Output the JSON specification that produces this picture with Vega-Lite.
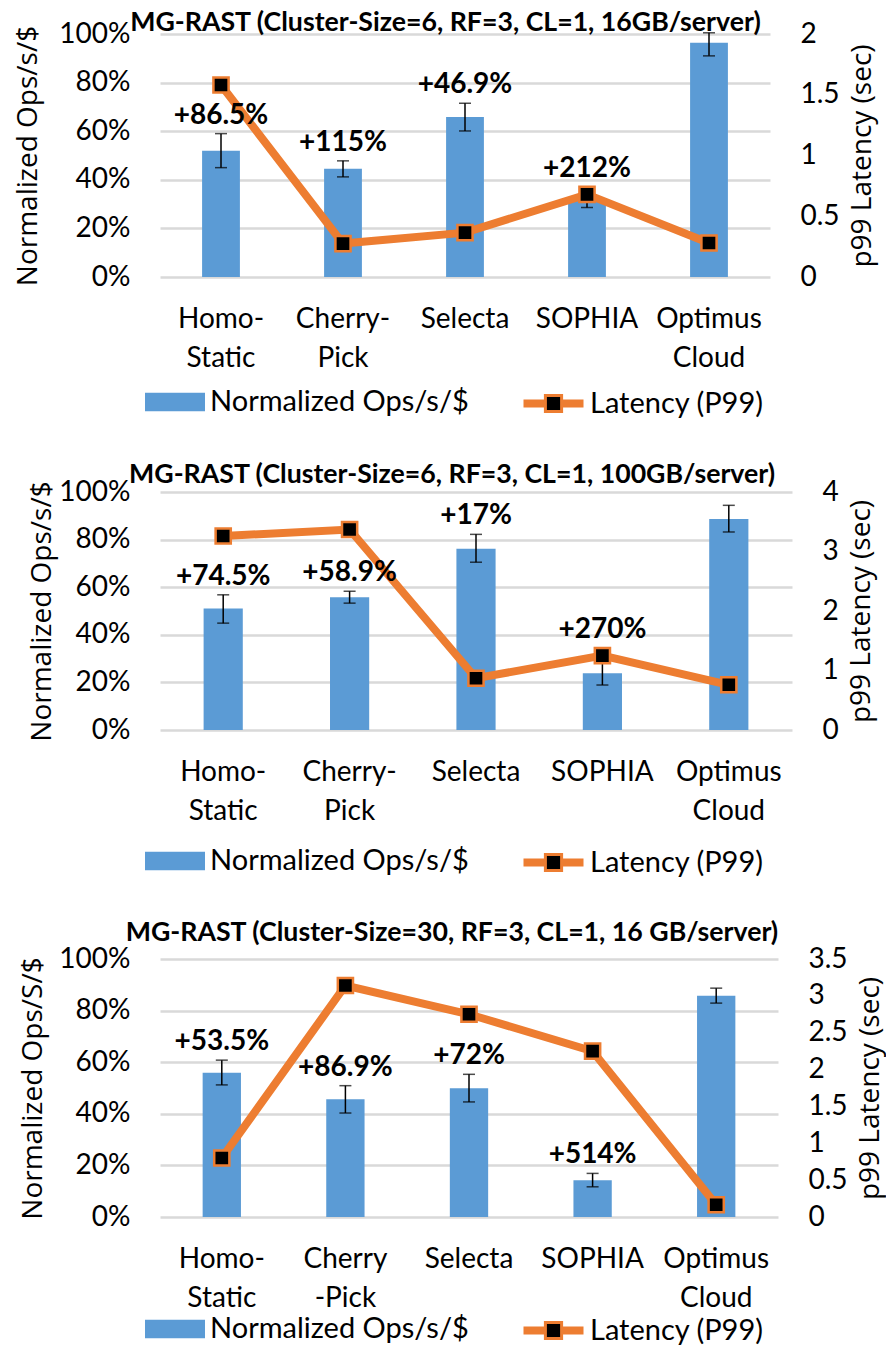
{
  "$schema": "https://vega.github.io/schema/vega-lite/v6.json",
  "padding": {"left": 14, "top": 0, "right": 4, "bottom": 0},
  "spacing": 42,
  "background": "white",
  "datasets": {
    "p1": [
      {"name": "Homo-|Static", "ops": 52.0, "lo": 45.0, "hi": 59.0, "lat": 1.58, "label": "+86.5%"},
      {"name": "Cherry-|Pick", "ops": 44.5, "lo": 41.2, "hi": 47.8, "lat": 0.275, "label": "+115%"},
      {"name": "Selecta", "ops": 65.8, "lo": 60.1, "hi": 71.5, "lat": 0.365, "label": "+46.9%"},
      {"name": "SOPHIA", "ops": 31.4, "lo": 28.6, "hi": 34.2, "lat": 0.68, "label": "+212%"},
      {"name": "Optimus|Cloud", "ops": 96.4, "lo": 91.0, "hi": 100.5, "lat": 0.28, "label": ""}
    ],
    "p2": [
      {"name": "Homo-|Static", "ops": 51.0, "lo": 44.9, "hi": 56.8, "lat": 3.26, "label": "+74.5%"},
      {"name": "Cherry-|Pick", "ops": 55.8, "lo": 53.3, "hi": 58.3, "lat": 3.37, "label": "+58.9%"},
      {"name": "Selecta", "ops": 76.2, "lo": 70.5, "hi": 82.2, "lat": 0.87, "label": "+17%"},
      {"name": "SOPHIA", "ops": 23.8, "lo": 18.9, "hi": 28.7, "lat": 1.25, "label": "+270%"},
      {"name": "Optimus|Cloud", "ops": 88.7, "lo": 83.2, "hi": 94.4, "lat": 0.76, "label": ""}
    ],
    "p3": [
      {"name": "Homo-|Static", "ops": 55.9, "lo": 51.2, "hi": 60.8, "lat": 0.80, "label": "+53.5%"},
      {"name": "Cherry|-Pick", "ops": 45.6, "lo": 40.3, "hi": 50.9, "lat": 3.14, "label": "+86.9%"},
      {"name": "Selecta", "ops": 49.9, "lo": 44.6, "hi": 55.3, "lat": 2.75, "label": "+72%"},
      {"name": "SOPHIA", "ops": 14.2, "lo": 11.7, "hi": 16.9, "lat": 2.25, "label": "+514%"},
      {"name": "Optimus|Cloud", "ops": 85.8, "lo": 82.9, "hi": 88.7, "lat": 0.166, "label": ""}
    ]
  },
  "resolve": {"scale": {"fill": "independent", "stroke": "independent"}, "legend": {"fill": "independent", "stroke": "independent"}},
  "vconcat": [
    {
      "width": 610, "height": 243,
      "title": {"text": "MG-RAST (Cluster-Size=6, RF=3, CL=1, 16GB/server)", "offset": -36},
      "data": {"name": "p1"},
      "encoding": {"x": {"field": "name", "type": "nominal", "sort": null, "scale": {"paddingInner": 0, "paddingOuter": 0}, "axis": {"title": null, "labelExpr": "split(datum.label, '|')", "labelAngle": 0, "labelPadding": 28, "labelBaseline": "top", "labelLineHeight": 39}}},
      "layer": [
        {"mark": {"type": "bar", "width": {"band": 0.31}},
         "encoding": {
           "y": {"field": "ops", "type": "quantitative", "scale": {"domain": [0, 100], "nice": false}, "axis": {"values": [0, 20, 40, 60, 80, 100], "labelExpr": "datum.value + '%'", "grid": true, "gridColor": "#D9D9D9", "gridWidth": 2.5, "title": "Normalized Ops/s/$", "labelPadding": 30, "titlePadding": 16}},
           "fill": {"datum": "Normalized Ops/s/$", "scale": {"range": ["#5B9BD5"]},
             "legend": {"orient": "bottom", "title": null, "labelFont": "Lato", "labelFontSize": 29, "labelColor": "black", "labelLimit": 500, "symbolType": "M-2,-0.62H2V0.62H-2Z", "symbolSize": 900, "symbolStrokeWidth": 0, "labelOffset": 20, "offset": 15}}
         }},
        {"mark": {"type": "errorbar", "color": "black", "ticks": {"size": 12, "thickness": 1.5, "color": "black"}, "rule": {"strokeWidth": 1.5, "color": "black"}},
         "encoding": {"y": {"field": "lo", "type": "quantitative", "scale": {"domain": [0, 100], "nice": false}, "axis": null}, "y2": {"field": "hi"}}},
        {"mark": {"type": "line", "strokeWidth": 8},
         "encoding": {
           "y": {"field": "lat", "type": "quantitative", "scale": {"domain": [0, 2], "nice": false}, "axis": {"orient": "right", "values": [0, 0.5, 1, 1.5, 2], "labelExpr": "datum.value + ''", "grid": false, "title": "p99 Latency (sec)", "titleAngle": 270, "titleBaseline": "top", "labelPadding": 30, "titlePadding": 9}},
           "stroke": {"datum": "Latency (P99)", "scale": {"range": ["#ED7D31"]},
             "legend": {"orient": "bottom", "title": null, "labelFont": "Lato", "labelFontSize": 29, "labelColor": "black", "labelLimit": 500, "symbolType": "M-2,0H-0.54M-2,-0.16H-0.54M-2,0.16H-0.54M0.54,0H2M0.54,-0.16H2M0.54,0.16H2M-0.54,-0.54H0.54V0.54H-0.54Z", "symbolSize": 900, "symbolStrokeWidth": 3, "symbolFillColor": "black", "symbolOffset": 60, "labelOffset": 20, "offset": 15}}
         }},
        {"mark": {"type": "point", "shape": "square", "filled": true, "fill": "black", "stroke": "#ED7D31", "strokeWidth": 2.5, "size": 230, "opacity": 1},
         "encoding": {"y": {"field": "lat", "type": "quantitative", "scale": {"domain": [0, 2], "nice": false}, "axis": null}}},
        {"transform": [{"calculate": "datum.name === 'SOPHIA' ? datum.lat * 50 + 3 : datum.hi", "as": "label_y"}],
         "mark": {"type": "text", "font": "Lato", "fontSize": 28, "fontWeight": "bold", "dy": -18, "baseline": "middle", "color": "black"},
         "encoding": {"y": {"field": "label_y", "type": "quantitative", "scale": {"domain": [0, 100], "nice": false}, "axis": null}, "text": {"field": "label"}}}
      ],
      "resolve": {"scale": {"y": "independent"}}
    },
    {
      "width": 632, "height": 238,
      "title": {"text": "MG-RAST (Cluster-Size=6, RF=3, CL=1, 100GB/server)", "offset": -15},
      "data": {"name": "p2"},
      "encoding": {"x": {"field": "name", "type": "nominal", "sort": null, "scale": {"paddingInner": 0, "paddingOuter": 0}, "axis": {"title": null, "labelExpr": "split(datum.label, '|')", "labelAngle": 0, "labelPadding": 28, "labelBaseline": "top", "labelLineHeight": 39}}},
      "layer": [
        {"mark": {"type": "bar", "width": {"band": 0.31}},
         "encoding": {
           "y": {"field": "ops", "type": "quantitative", "scale": {"domain": [0, 100], "nice": false}, "axis": {"values": [0, 20, 40, 60, 80, 100], "labelExpr": "datum.value + '%'", "grid": true, "gridColor": "#D9D9D9", "gridWidth": 2.5, "title": "Normalized Ops/s/$", "labelPadding": 30, "titlePadding": 2}},
           "fill": {"datum": "Normalized Ops/s/$", "scale": {"range": ["#5B9BD5"]},
             "legend": {"orient": "bottom", "title": null, "labelFont": "Lato", "labelFontSize": 29, "labelColor": "black", "labelLimit": 500, "symbolType": "M-2,-0.62H2V0.62H-2Z", "symbolSize": 900, "symbolStrokeWidth": 0, "labelOffset": 20, "offset": 21}}
         }},
        {"mark": {"type": "errorbar", "color": "black", "ticks": {"size": 12, "thickness": 1.5, "color": "black"}, "rule": {"strokeWidth": 1.5, "color": "black"}},
         "encoding": {"y": {"field": "lo", "type": "quantitative", "scale": {"domain": [0, 100], "nice": false}, "axis": null}, "y2": {"field": "hi"}}},
        {"mark": {"type": "line", "strokeWidth": 8},
         "encoding": {
           "y": {"field": "lat", "type": "quantitative", "scale": {"domain": [0, 4], "nice": false}, "axis": {"orient": "right", "values": [0, 1, 2, 3, 4], "labelExpr": "datum.value + ''", "grid": false, "title": "p99 Latency (sec)", "titleAngle": 270, "titleBaseline": "top", "labelPadding": 30, "titlePadding": 9}},
           "stroke": {"datum": "Latency (P99)", "scale": {"range": ["#ED7D31"]},
             "legend": {"orient": "bottom", "title": null, "labelFont": "Lato", "labelFontSize": 29, "labelColor": "black", "labelLimit": 500, "symbolType": "M-2,0H-0.54M-2,-0.16H-0.54M-2,0.16H-0.54M0.54,0H2M0.54,-0.16H2M0.54,0.16H2M-0.54,-0.54H0.54V0.54H-0.54Z", "symbolSize": 900, "symbolStrokeWidth": 3, "symbolFillColor": "black", "symbolOffset": 60, "labelOffset": 20, "offset": 21}}
         }},
        {"mark": {"type": "point", "shape": "square", "filled": true, "fill": "black", "stroke": "#ED7D31", "strokeWidth": 2.5, "size": 230, "opacity": 1},
         "encoding": {"y": {"field": "lat", "type": "quantitative", "scale": {"domain": [0, 4], "nice": false}, "axis": null}}},
        {"transform": [{"calculate": "datum.name === 'SOPHIA' ? datum.lat * 25 + 3 : datum.hi", "as": "label_y"}],
         "mark": {"type": "text", "font": "Lato", "fontSize": 28, "fontWeight": "bold", "dy": -18, "baseline": "middle", "color": "black"},
         "encoding": {"y": {"field": "label_y", "type": "quantitative", "scale": {"domain": [0, 100], "nice": false}, "axis": null}, "text": {"field": "label"}}}
      ],
      "resolve": {"scale": {"y": "independent"}}
    },
    {
      "width": 618, "height": 258,
      "title": {"text": "MG-RAST (Cluster-Size=30, RF=3, CL=1, 16 GB/server)", "offset": -2},
      "data": {"name": "p3"},
      "encoding": {"x": {"field": "name", "type": "nominal", "sort": null, "scale": {"paddingInner": 0, "paddingOuter": 0}, "axis": {"title": null, "labelExpr": "split(datum.label, '|')", "labelAngle": 0, "labelPadding": 28, "labelBaseline": "top", "labelLineHeight": 39}}},
      "layer": [
        {"mark": {"type": "bar", "width": {"band": 0.31}},
         "encoding": {
           "y": {"field": "ops", "type": "quantitative", "scale": {"domain": [0, 100], "nice": false}, "axis": {"values": [0, 20, 40, 60, 80, 100], "labelExpr": "datum.value + '%'", "grid": true, "gridColor": "#D9D9D9", "gridWidth": 2.5, "title": "Normalized Ops/S/$", "labelPadding": 30, "titlePadding": 11}},
           "fill": {"datum": "Normalized Ops/s/$", "scale": {"range": ["#5B9BD5"]},
             "legend": {"orient": "bottom", "title": null, "labelFont": "Lato", "labelFontSize": 29, "labelColor": "black", "labelLimit": 500, "symbolType": "M-2,-0.62H2V0.62H-2Z", "symbolSize": 900, "symbolStrokeWidth": 0, "labelOffset": 20, "offset": 2}}
         }},
        {"mark": {"type": "errorbar", "color": "black", "ticks": {"size": 12, "thickness": 1.5, "color": "black"}, "rule": {"strokeWidth": 1.5, "color": "black"}},
         "encoding": {"y": {"field": "lo", "type": "quantitative", "scale": {"domain": [0, 100], "nice": false}, "axis": null}, "y2": {"field": "hi"}}},
        {"mark": {"type": "line", "strokeWidth": 8},
         "encoding": {
           "y": {"field": "lat", "type": "quantitative", "scale": {"domain": [0, 3.5], "nice": false}, "axis": {"orient": "right", "values": [0, 0.5, 1, 1.5, 2, 2.5, 3, 3.5], "labelExpr": "datum.value + ''", "grid": false, "title": "p99 Latency (sec)", "titleAngle": 270, "titleBaseline": "top", "labelPadding": 30, "titlePadding": 9}},
           "stroke": {"datum": "Latency (P99)", "scale": {"range": ["#ED7D31"]},
             "legend": {"orient": "bottom", "title": null, "labelFont": "Lato", "labelFontSize": 29, "labelColor": "black", "labelLimit": 500, "symbolType": "M-2,0H-0.54M-2,-0.16H-0.54M-2,0.16H-0.54M0.54,0H2M0.54,-0.16H2M0.54,0.16H2M-0.54,-0.54H0.54V0.54H-0.54Z", "symbolSize": 900, "symbolStrokeWidth": 3, "symbolFillColor": "black", "symbolOffset": 60, "labelOffset": 20, "offset": 2}}
         }},
        {"mark": {"type": "point", "shape": "square", "filled": true, "fill": "black", "stroke": "#ED7D31", "strokeWidth": 2.5, "size": 230, "opacity": 1},
         "encoding": {"y": {"field": "lat", "type": "quantitative", "scale": {"domain": [0, 3.5], "nice": false}, "axis": null}}},
        {"mark": {"type": "text", "font": "Lato", "fontSize": 28, "fontWeight": "bold", "dy": -18, "baseline": "middle", "color": "black"},
         "encoding": {"y": {"field": "hi", "type": "quantitative", "scale": {"domain": [0, 100], "nice": false}, "axis": null}, "text": {"field": "label"}}}
      ],
      "resolve": {"scale": {"y": "independent"}}
    }
  ],
  "config": {
    "view": {"stroke": null},
    "font": "Lato",
    "title": {"font": "Lato", "fontSize": 26.7, "fontWeight": "bold", "color": "black", "frame": "bounds", "anchor": "middle"},
    "axis": {"ticks": false, "domain": false, "grid": false, "labelFont": "Lato", "labelFontSize": 28, "labelColor": "black", "titleFont": "Open Sans", "titleFontSize": 28, "titleFontWeight": "normal", "titleColor": "black"}
  }
}
